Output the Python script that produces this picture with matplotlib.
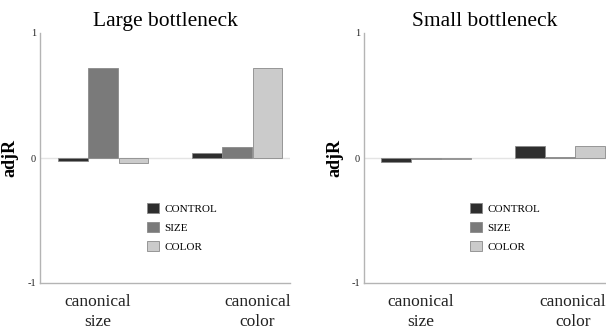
import numpy as np
import matplotlib
matplotlib.use("Agg")
import matplotlib.pyplot as plt
from matplotlib.patches import Patch

plt.rcParams["font.family"] = ["Liberation Serif", "DejaVu Serif"]

PANELS = ["Large bottleneck", "Small bottleneck"]
GROUPS = ["canonical\nsize", "canonical\ncolor"]
SERIES = ["CONTROL", "SIZE", "COLOR"]
COLORS = ["#2e2e2e", "#7a7a7a", "#cbcbcb"]

# adjR values per panel: rows = series, cols = groups (canonical size, canonical color)
large_control = [-0.02, 0.04]
large_size = [0.72, 0.09]
large_color = [-0.04, 0.72]
small_control = [-0.03, 0.10]
small_size = [-0.01, 0.01]
small_color = [-0.01, 0.10]

VALUES = [[large_control, large_size, large_color],
          [small_control, small_size, small_color]]

W, H = 606, 330
fig = plt.figure(figsize=(W / 100, H / 100), dpi=100)

# axes boxes in pixels: (left, right), shared top/bottom
boxes = [(40, 290), (364, 606)]
top_px, bot_px = 33, 283
xlims = [(-2.14, 6.33), (-2.10, 6.10)]
label_x = [[-0.17, 5.22], [-0.17, 4.98]]
legend_x = [0.428, 0.438]
centers = np.array([0.0, 4.54])
step, bw = 1.02, 1.0

for i, title in enumerate(PANELS):
    l, r = boxes[i]
    ax = fig.add_axes([l / W, (H - bot_px) / H, (r - l) / W, (bot_px - top_px) / H])
    ax.axhline(0, color="#e4e4e4", lw=1.0, zorder=0)
    handles = []
    for k, name in enumerate(SERIES):
        ax.bar(centers + (k - 1) * step, VALUES[i][k], width=bw, color=COLORS[k],
               edgecolor="#8a8a8a", lw=0.6, zorder=2)
        handles.append(Patch(facecolor=COLORS[k], edgecolor="#8a8a8a", lw=0.6, label=name))
    ax.set_xlim(*xlims[i])
    ax.set_ylim(-1, 1)
    ax.set_yticks([-1, 0, 1])
    ax.set_yticklabels(["-1", "0", "1"], fontsize=7.5)
    ax.set_xticks(label_x[i])
    ax.set_xticklabels(GROUPS, fontsize=12.5, linespacing=1.3)
    ax.tick_params(length=0, pad=3, colors="#222222")
    ax.tick_params(axis="x", pad=8)
    for s in ["top", "right"]:
        ax.spines[s].set_visible(False)
    for s in ["left", "bottom"]:
        ax.spines[s].set_color("#b4b4b4")
        ax.spines[s].set_linewidth(1.0)
    ax.set_ylabel("adjR", fontsize=13, fontweight="semibold", labelpad=6)
    ax.set_title(title, fontsize=15.5, pad=5)
    ax.legend(handles=handles, loc="upper left", bbox_to_anchor=(legend_x[i], 0.322),
              frameon=False, fontsize=8, handlelength=1.1, handleheight=1.1,
              handletextpad=0.45, labelspacing=0.72, borderpad=0, borderaxespad=0)

fig.savefig("out.png", dpi=100)
